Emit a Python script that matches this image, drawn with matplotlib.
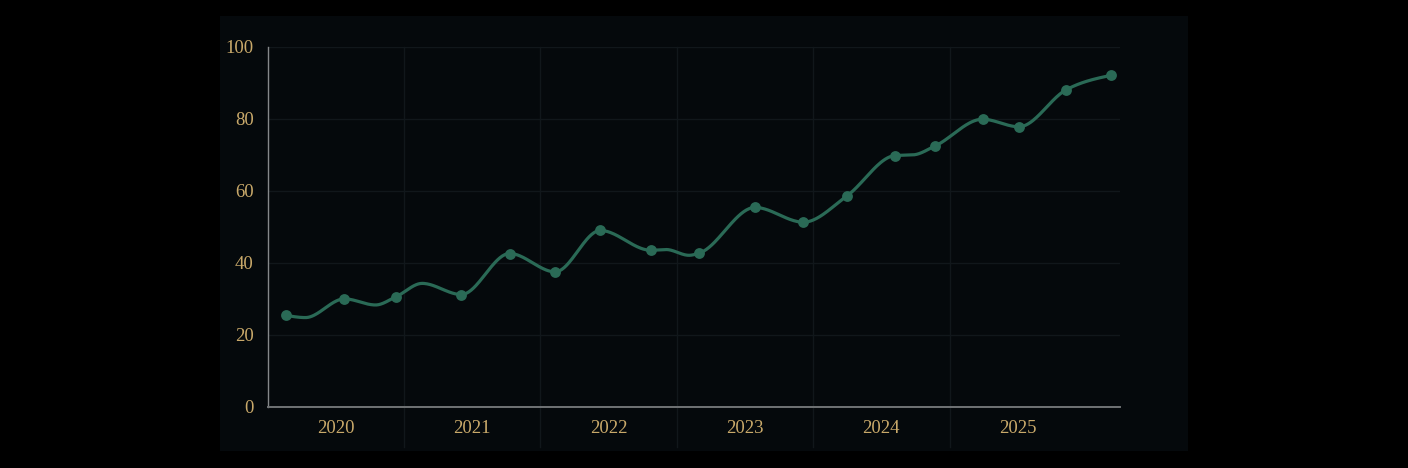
import numpy as np
import matplotlib
matplotlib.use("Agg")
import matplotlib.pyplot as plt
import matplotlib.transforms as mtransforms

# ---- data (x in years since start of 2020) ----
# marked observations
t_years = [0.138, 0.564, 0.943, 1.421, 1.775, 2.109, 2.440, 2.810, 3.165,
           3.574, 3.929, 4.248, 4.600, 4.896, 5.242, 5.509, 5.852, 6.185]
values = [25.3, 29.9, 30.5, 31.1, 42.5, 37.4, 48.9, 43.4, 42.6,
          55.3, 51.2, 58.5, 69.7, 72.4, 79.8, 77.7, 87.9, 92.0]
# unmarked turning points of the drawn line
line_extra_t = [0.278, 0.792, 1.134, 2.923, 3.090, 4.735]
line_extra_v = [24.7, 28.2, 34.2, 43.6, 42.0, 69.9]

year_labels = ["2020", "2021", "2022", "2023", "2024", "2025"]
y_ticks = [0, 20, 40, 60, 80, 100]

BASE_YEAR = 2020
xs = np.array(t_years) + BASE_YEAR
ys = np.array(values, dtype=float)


def monotone_curve(x, y, n_per=40):
    """Monotone cubic interpolation (like d3.curveMonotoneX)."""
    x = np.asarray(x, float)
    y = np.asarray(y, float)
    n = len(x)
    h = np.diff(x)
    s = np.diff(y) / h
    m = np.zeros(n)
    for i in range(1, n - 1):
        h0, h1, s0, s1 = h[i - 1], h[i], s[i - 1], s[i]
        p = (s0 * h1 + s1 * h0) / (h0 + h1)
        m[i] = (np.sign(s0) + np.sign(s1)) * min(abs(s0), abs(s1), 0.5 * abs(p))
    m[0] = (3 * s[0] - m[1]) / 2 if n > 2 else s[0]
    m[-1] = (3 * s[-1] - m[-2]) / 2 if n > 2 else s[-1]
    ox, oy = [], []
    for i in range(n - 1):
        t = np.linspace(0, 1, n_per, endpoint=(i == n - 2))
        hh = h[i]
        h00 = 2 * t**3 - 3 * t**2 + 1
        h10 = t**3 - 2 * t**2 + t
        h01 = -2 * t**3 + 3 * t**2
        h11 = t**3 - t**2
        ox.append(x[i] + t * hh)
        oy.append(h00 * y[i] + h10 * hh * m[i] + h01 * y[i + 1] + h11 * hh * m[i + 1])
    return np.concatenate(ox), np.concatenate(oy)


W, H = 1408, 468
fig = plt.figure(figsize=(W / 100, H / 100), dpi=100, facecolor="black")

# panel background
bg = fig.add_axes([220 / W, 1 - 451 / H, (1188 - 220) / W, (451 - 16) / H], zorder=-10)
bg.set_facecolor("#05090c")
bg.set_xticks([])
bg.set_yticks([])
for s in bg.spines.values():
    s.set_visible(False)

ax_l, ax_r, ax_t, ax_b = 267.5, 1120, 46.5, 406.5
ax = fig.add_axes([ax_l / W, 1 - ax_b / H, (ax_r - ax_l) / W, (ax_b - ax_t) / H], zorder=1)
ax.set_facecolor("none")

ax.set_xlim(BASE_YEAR, BASE_YEAR + 6.25)
ax.set_ylim(0, 100)

grid_c = "#11171b"
for yv in y_ticks[1:]:
    ax.axhline(yv, color=grid_c, lw=1.0, zorder=1)
trans = mtransforms.blended_transform_factory(ax.transData, ax.transAxes)
for k in range(1, len(year_labels)):
    xb = BASE_YEAR + k
    ax.plot([xb, xb], [-0.113, 1.0], transform=trans, color=grid_c, lw=1.0,
            clip_on=False, zorder=1)

# line through observations and turning points
lx = np.concatenate([xs, np.array(line_extra_t) + BASE_YEAR])
ly = np.concatenate([ys, np.array(line_extra_v, float)])
order = np.argsort(lx)
cx, cy = monotone_curve(lx[order], ly[order])
line_c = "#2a6a56"
ax.plot(cx, cy, color=line_c, lw=2.3, zorder=3, solid_capstyle="round")
ax.plot(xs, ys, "o", color=line_c, ms=7.8, mec="none", zorder=4)

# ticks
gold = "#c9a96a"
font = dict(family=["Liberation Serif", "DejaVu Serif"], size=13.5)
ax.set_yticks(y_ticks)
ax.set_yticklabels([str(v) for v in y_ticks], color=gold, **font)
ax.set_xticks([BASE_YEAR + k + 0.5 for k in range(len(year_labels))])
ax.set_xticklabels(year_labels, color=gold, **font)
ax.tick_params(axis="both", length=0)
ax.tick_params(axis="y", pad=10)
ax.tick_params(axis="x", pad=10)

for s in ["top", "right"]:
    ax.spines[s].set_visible(False)
ax.spines["left"].set_color("#85888a")
ax.spines["left"].set_linewidth(1.0)
ax.spines["bottom"].set_color("#707375")
ax.spines["bottom"].set_linewidth(1.4)

fig.savefig("out.png", dpi=100, facecolor="black")
